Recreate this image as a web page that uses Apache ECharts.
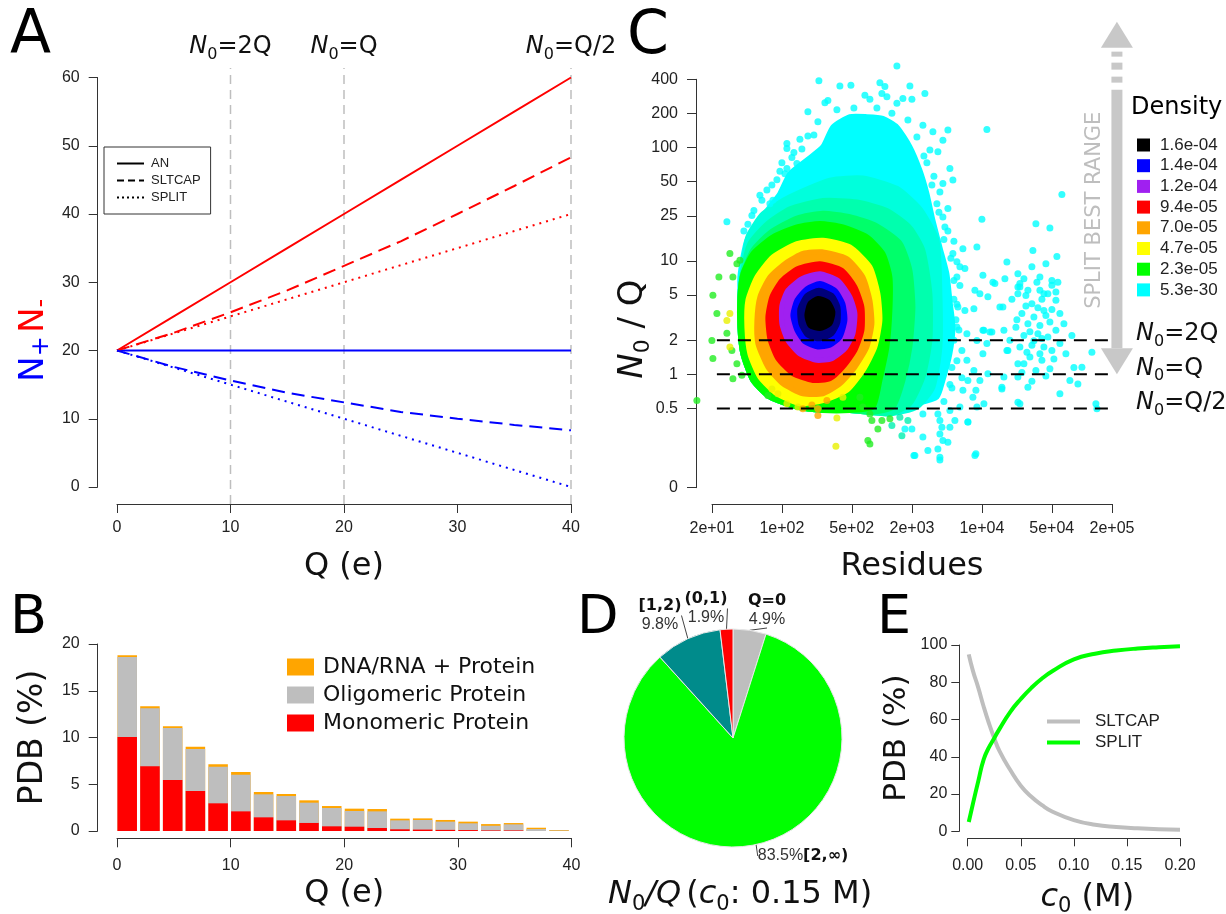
<!DOCTYPE html>
<html>
<head>
<meta charset="utf-8">
<script src="https://cdn.jsdelivr.net/npm/echarts@6/dist/echarts.min.js"></script>
<style>
  html, body { margin: 0; padding: 0; background: #fff; }
  #chart { width: 1226px; height: 914px; }
</style>
</head>
<body>
<div id="chart"></div>
<script>
// ---------- A: N+ / N- against Q ----------
const qA = [0, 5, 10, 15, 20, 25, 30, 35, 40];
const anMinus = [20, 25, 30, 35, 40, 45, 50, 55, 60];
const anPlus = [20, 20, 20, 20, 20, 20, 20, 20, 20];
const sltcapMinus = [20, 22.6, 25.6, 28.8, 32.4, 36.0, 40.0, 44.1, 48.3];
const sltcapPlus = [20, 17.6, 15.6, 13.8, 12.4, 11.0, 10.0, 9.1, 8.3];
const splitMinus = [20, 22.5, 25, 27.5, 30, 32.5, 35, 37.5, 40];
const splitPlus = [20, 17.5, 15, 12.5, 10, 7.5, 5, 2.5, 0];
const regimeQ = [10, 20, 40];
const regimeText = ['2Q', 'Q', 'Q/2'];
const regimeSpan = [-2.5, 61.4]; // vertical guides run over the whole plot region

// ---------- B: PDB share per charge bin ----------
const binCenters = [0.9, 2.9, 4.9, 6.9, 8.9, 10.9, 12.9, 14.9, 16.9, 18.9, 20.9, 22.9, 24.9, 26.9, 28.9, 30.9, 32.9, 34.9, 36.9, 38.9];
const monomeric = [10.05, 6.92, 5.45, 4.28, 2.96, 2.1, 1.46, 1.14, 0.86, 0.5, 0.46, 0.32, 0.18, 0.15, 0.12, 0.1, 0.06, 0.06, 0, 0];
const oligomeric = [8.55, 6.2, 5.57, 4.49, 3.92, 3.92, 2.46, 2.6, 2.17, 1.96, 1.68, 1.78, 0.96, 1.03, 0.88, 0.72, 0.5, 0.65, 0.21, 0.05];
const dnaRna = [0.2, 0.21, 0.18, 0.25, 0.25, 0.29, 0.25, 0.22, 0.25, 0.21, 0.25, 0.25, 0.18, 0.17, 0.18, 0.18, 0.18, 0.14, 0.14, 0.06];

// ---------- C: N0/Q against residues (log axes) ----------
const resTicks = [20, 100, 500, 2000, 10000, 50000, 200000];
const resTickText = ['2e+01', '1e+02', '5e+02', '2e+03', '1e+04', '5e+04', '2e+05'];
const ratioTicks = [0, 0.5, 1, 2, 5, 10, 25, 50, 100, 200, 400];
const ratioZeroAt = 0.1; // "0" sits here on the log2 axis
const cutRatios = [2, 1, 0.5];
const cutText = ['2Q', 'Q', 'Q/2'];
const cutSpanRes = [13.8, 3.0e5];
const densityText = ['1.6e-04', '1.4e-04', '1.2e-04', '9.4e-05', '7.0e-05', '4.7e-05', '2.3e-05', '5.3e-30'];
const splitArrow = { res: 2.24e5, from: 1, to: 1290, labelAt: 28 };

// density regions, [log10(residues), log2(N0/Q)]
const cloudCyan = [[2.51,7.25],[2.41,6.67],[2.25,6.28],[2.08,5.88],[1.98,5.30],[1.88,4.91],[1.75,4.42],[1.65,3.93],[1.61,3.44],[1.58,2.85],[1.58,2.36],[1.58,1.78],[1.60,1.09],[1.65,0.50],[1.75,-0.18],[1.88,-0.47],[2.05,-0.67],[2.25,-0.77],[2.51,-0.67],[2.75,-0.86],[2.95,-1.06],[3.15,-0.96],[3.35,-0.86],[3.55,-0.67],[3.61,-0.18],[3.68,0.60],[3.71,1.39],[3.68,2.17],[3.65,2.95],[3.58,3.73],[3.51,4.52],[3.45,5.30],[3.38,5.98],[3.28,6.67],[3.15,7.25],[3.01,7.50],[2.85,7.55],[2.68,7.55]];
const cloudMix1 = [[2.48,5.69],[2.81,5.75],[3.15,5.45],[3.38,4.85],[3.55,3.93],[3.58,2.36],[3.58,0.80],[3.51,-0.38],[3.35,-0.96],[3.08,-1.16],[2.68,-1.06],[2.41,-1.06],[2.15,-0.96],[1.88,-0.67],[1.71,-0.18],[1.61,0.60],[1.58,1.39],[1.58,2.27],[1.61,3.15],[1.66,4.03],[1.81,4.70],[2.08,5.20]];
const cloudMix2 = [[2.41,5.09],[2.75,5.05],[3.05,4.80],[3.28,4.30],[3.41,3.63],[3.48,2.36],[3.48,0.99],[3.41,-0.08],[3.28,-0.86],[3.08,-1.16],[2.68,-1.06],[2.41,-1.06],[2.15,-0.96],[1.88,-0.67],[1.71,-0.18],[1.61,0.60],[1.58,1.39],[1.58,2.27],[1.61,3.05],[1.68,3.83],[1.85,4.40],[2.08,4.85]];
const cloudMix3 = [[2.41,4.72],[2.68,4.62],[2.95,4.35],[3.18,3.85],[3.28,3.05],[3.31,1.97],[3.28,0.80],[3.21,-0.18],[3.11,-0.96],[2.91,-1.11],[2.68,-1.06],[2.41,-1.06],[2.15,-0.96],[1.88,-0.67],[1.71,-0.18],[1.61,0.60],[1.58,1.39],[1.58,2.27],[1.61,2.95],[1.71,3.64],[1.88,4.15],[2.15,4.58]];
const cloudGreen = [[2.38,4.42],[2.61,4.32],[2.85,4.03],[3.01,3.54],[3.08,2.85],[3.08,1.87],[3.05,0.80],[2.98,-0.18],[2.91,-0.96],[2.68,-1.06],[2.41,-1.06],[2.15,-0.96],[1.88,-0.67],[1.71,-0.18],[1.61,0.60],[1.58,1.39],[1.58,2.27],[1.61,2.95],[1.71,3.54],[1.91,4.03],[2.15,4.32]];
const cloudYellow = [[2.41,3.93],[2.68,3.73],[2.88,3.15],[2.96,2.36],[2.98,1.58],[2.93,0.80],[2.81,0.11],[2.65,-0.47],[2.41,-0.77],[2.18,-0.86],[1.95,-0.57],[1.78,-0.08],[1.68,0.60],[1.65,1.39],[1.66,2.17],[1.75,2.85],[1.91,3.44],[2.15,3.83]];
const cloudOrange = [[2.40,3.59],[2.65,3.39],[2.81,2.85],[2.88,2.17],[2.90,1.48],[2.85,0.80],[2.73,0.21],[2.58,-0.28],[2.41,-0.57],[2.21,-0.57],[2.01,-0.28],[1.86,0.21],[1.76,0.90],[1.75,1.58],[1.78,2.27],[1.88,2.85],[2.05,3.29],[2.21,3.54]];
const cloudRed = [[2.38,3.24],[2.60,3.05],[2.73,2.56],[2.80,1.97],[2.80,1.29],[2.73,0.70],[2.61,0.21],[2.48,-0.13],[2.31,-0.18],[2.11,0.02],[1.96,0.46],[1.88,1.04],[1.86,1.68],[1.90,2.27],[2.00,2.75],[2.16,3.10]];
const cloudPurple = [[2.38,2.95],[2.56,2.75],[2.68,2.27],[2.73,1.78],[2.71,1.19],[2.63,0.75],[2.50,0.46],[2.35,0.41],[2.18,0.60],[2.06,0.99],[2.00,1.48],[2.00,2.02],[2.06,2.46],[2.20,2.80]];
const cloudBlue = [[2.38,2.66],[2.53,2.46],[2.61,2.07],[2.63,1.58],[2.58,1.09],[2.48,0.85],[2.36,0.80],[2.23,0.95],[2.15,1.29],[2.11,1.73],[2.15,2.17],[2.25,2.51]];
const cloudNavy = [[2.37,2.46],[2.50,2.31],[2.56,1.97],[2.56,1.53],[2.50,1.19],[2.38,1.04],[2.26,1.14],[2.19,1.48],[2.18,1.92],[2.25,2.31]];
const cloudBlack = [[2.36,2.22],[2.46,2.12],[2.51,1.83],[2.48,1.48],[2.38,1.34],[2.28,1.43],[2.25,1.73],[2.28,2.07]];

// sparse points outside the dense regions, [log10(residues), log2(N0/Q)]
const cyanDots = [[3.15,9.03],[2.37,8.60],[2.58,8.45],[2.69,8.47],[2.98,8.54],[3.03,8.43],[3.00,8.23],[3.05,8.13],[3.28,8.45],[3.43,8.23],[2.26,7.69],[2.43,7.96],[2.46,8.02],[2.83,8.18],[2.88,8.06],[3.15,7.94],[3.21,8.08],[3.30,8.06],[3.26,7.45],[3.41,7.30],[3.51,7.11],[3.66,7.16],[4.05,7.17],[2.18,6.89],[2.26,6.98],[2.32,7.01],[2.05,6.76],[2.05,6.62],[2.15,6.18],[2.05,6.03],[2.03,5.88],[1.78,5.25],[1.91,5.10],[1.88,5.00],[1.45,4.47],[3.61,6.86],[3.56,6.52],[3.48,6.57],[3.68,6.03],[3.71,5.69],[3.61,5.59],[3.58,5.34],[3.66,4.86],[3.61,4.61],[4.00,4.54],[3.63,4.32],[3.71,3.54],[3.78,3.15],[3.81,3.68],[3.95,3.73],[3.83,3.10],[3.75,2.85],[4.01,2.90],[4.11,2.70],[4.25,3.29],[3.93,2.46],[3.98,2.36],[4.06,2.27],[4.13,2.66],[4.23,2.80],[4.21,1.97],[4.36,2.56],[4.36,2.36],[3.76,1.97],[3.83,1.87],[3.92,1.92],[3.75,1.39],[3.85,1.19],[3.95,0.99],[4.01,1.29],[4.10,1.24],[4.05,0.90],[4.01,0.60],[4.25,0.70],[4.36,0.31],[4.36,-0.82],[3.85,0.41],[3.92,0.11],[3.86,-0.18],[3.98,-0.18],[4.06,0.02],[3.81,-0.47],[3.91,-0.67],[3.95,-0.96],[4.20,-0.43],[3.56,-1.16],[3.58,-1.35],[3.60,-1.55],[3.58,-1.75],[3.61,-1.94],[3.66,-1.99],[3.56,-2.19],[3.58,-2.43],[3.46,-2.23],[3.32,-2.38],[3.23,-1.60],[3.30,-1.60],[3.41,-1.84],[3.68,-1.55],[3.73,-1.35],[3.86,-1.40],[3.93,-2.38],[3.68,-1.06],[3.41,-1.16],
  [4.38,2.56],[4.44,2.31],[4.50,2.07],[4.58,2.46],[4.66,2.36],[4.70,2.61],[4.74,2.17],[4.62,1.87],[4.52,1.68],[4.40,1.78],[4.46,1.48],[4.58,1.43],[4.68,1.53],[4.78,1.78],[4.56,1.19],[4.42,1.14],[4.66,1.09],[4.74,1.29],[4.50,0.85],[4.62,0.80],[4.70,0.70],[4.38,0.80],[4.48,0.51],[4.60,0.41],[4.68,0.16],[4.54,0.11],[4.42,0.31],[4.78,0.90],[4.82,1.48],[4.90,1.14],[4.34,1.38],[4.26,0.70],[4.02,1.29],[4.08,1.24],[4.18,1.97],[4.22,1.29],[4.36,-0.08],[5.00,0.21],[5.10,0.65],[4.96,-0.28],[4.78,-0.57],[4.88,-0.18],[5.14,-0.86],[5.15,-1.01],[4.38,-0.86],[4.46,-0.38],[4.22,-0.08],[4.20,-0.38],[3.94,-0.47],[3.94,-2.33],[3.33,-2.38],[3.58,-2.51],[3.86,-1.40],[4.02,-0.86],[3.78,-0.96],
  [4.44,2.00],[4.56,1.95],[4.64,1.72],[4.48,1.25],[4.52,0.98],[4.60,1.05],[4.70,1.90],[4.35,1.60],[4.45,0.65],[4.58,0.60],[4.72,0.45],[4.64,-0.05],[4.50,-0.20],[4.40,0.05],[4.76,2.70],[4.60,2.20],[4.30,2.20],[4.28,1.00],[4.84,0.60],[4.92,0.20],[4.55,2.70],[4.42,2.80],
  [4.80,5.27],[4.54,4.41],[4.68,4.29],[4.51,3.63],[4.75,3.45],[4.36,2.95],[4.50,3.15],[4.58,2.85],[4.64,3.24],[4.70,2.75],[4.38,2.66],[4.46,2.46],[4.62,2.36],[4.74,2.41],
  [2.12,6.50],[2.00,6.20],[1.95,5.70],[1.85,5.40],[1.72,4.80],[1.66,4.40],[1.62,4.20],[3.45,6.20],[3.52,5.80],[3.55,5.00],[3.66,4.20],[3.72,3.90],[3.75,3.30],[3.78,2.60],[3.72,2.20],[3.74,1.60],[3.72,1.00],[3.70,0.20],[3.70,-0.40],[3.62,-0.80],[3.80,0.70],[3.80,-0.10],
  [2.36,7.40],[2.55,7.75],[2.72,7.80],[2.95,7.80],[3.10,7.65],[3.35,6.95],[3.42,6.40],[3.50,5.55],[3.57,4.75],[3.62,3.95],[3.69,3.40],[3.72,2.75],[3.75,2.05],[3.77,1.30],[3.75,0.40],[3.68,-0.30],[2.20,6.60],[2.10,6.35],[1.98,5.95],[1.90,5.55],[1.80,5.10],[1.70,4.65]];
const tealDots = [[3.18,-1.26],[3.26,-1.35],[3.20,-1.80],[3.10,-1.50]];
const greenDots = [[1.31,2.32],[1.35,1.78],[1.37,2.85],[1.48,3.54],[1.51,2.85],[1.55,3.24],[1.58,3.34],[1.30,0.99],[1.31,0.46],[1.51,-0.13],[1.60,-0.03],[1.55,0.31],[1.15,-0.77],[2.78,-0.67],[2.81,-0.96],[2.88,-1.16],[2.90,-1.35],[2.96,-1.60],[2.88,-2.04],[2.86,-1.94],[3.08,-1.30],[3.00,-1.35],[1.86,-0.62],[1.45,1.20],[1.50,0.70]];
const yellowDots = [[1.48,0.80],[1.45,1.58],[1.48,1.78],[1.96,-0.57],[1.90,-0.43],[2.05,-0.86],[2.16,-0.96],[2.61,-0.67],[2.55,-1.28],[2.54,-2.11]];
const orangeDots = [[2.21,-1.01],[2.36,-1.21],[2.36,-1.01],[2.45,-0.77],[2.30,-0.90]];

// ---------- D: N0/Q classes at 0.15 M ----------
const pieNames = ['Q=0', '[2,\u221e)', '[1,2)', '(0,1)'];
const pieShares = [4.9, 83.5, 9.8, 1.9];

// ---------- E: share of PDB against c0 ----------
const c0 = [0.001, 0.005, 0.01, 0.015, 0.02, 0.025, 0.03, 0.04, 0.05, 0.06, 0.07, 0.08, 0.10, 0.12, 0.14, 0.16, 0.18, 0.20];
const pdbSltcap = [95, 86, 77, 67, 58, 50, 43, 33, 24.5, 18.5, 14, 10.5, 6, 3.5, 2.3, 1.6, 1.1, 0.8];
const pdbSplit = [5, 15, 27, 38.5, 45, 50, 55, 64, 71, 77, 82, 86, 92.3, 95.3, 97, 98.1, 98.8, 99.3];

// ---------- styles ----------
const RED = '#FF0000', BLUE = '#0000FF', GREY = '#BEBEBE', INK = '#222';
const SANS = 'Liberation Sans', DEJAVU = 'DejaVu Sans';
const pieColors = [GREY, '#00FF00', '#008B8B', RED];
const pieLabelAt = [[767, 610], [803, 856], [660, 615], [706, 608]];

const lx = v => Math.log10(v);
const lr = v => Math.log2(v === 0 ? ratioZeroAt : v);
const zip = (xs, ys) => xs.map((x, i) => [x, ys[i]]);
const pick = (vals, labels) => v => {
  const i = vals.findIndex(t => Math.abs(t - v) < 1e-6);
  return i < 0 ? '' : labels[i];
};

// B bars are layered: full height first, then the lower parts drawn over it
const topOfGrey = monomeric.map((v, i) => v + oligomeric[i]);
const topOfAll = topOfGrey.map((v, i) => v + dnaRna[i]);

const axLine = { show: true, onZero: false, lineStyle: { color: '#333', width: 1 } };
const axTick = { show: true, length: 9, lineStyle: { color: '#333', width: 1 } };
const axLabel = margin => ({ fontSize: 16, color: INK, fontFamily: SANS, margin });
const noSplit = { show: false };
const titleText = (size, lh) => ({ fontSize: size, lineHeight: lh, fontFamily: DEJAVU, color: '#111', fontWeight: 'normal' });
const subRich = size => ({
  n: { fontFamily: DEJAVU, fontStyle: 'italic', fontWeight: 'normal', fontSize: size, lineHeight: size + 8, color: '#111' },
  s: { fontFamily: DEJAVU, fontWeight: 'normal', fontSize: Math.round(size * 0.65), lineHeight: Math.round(size * 0.65), verticalAlign: 'bottom', color: '#111' },
  t: { fontFamily: DEJAVU, fontWeight: 'normal', fontSize: size, lineHeight: size + 8, color: '#111' }
});

const lineA = (ys, color, type) => ({
  type: 'line', xAxisIndex: 0, yAxisIndex: 0, data: zip(qA, ys),
  symbol: 'none', silent: true, lineStyle: { color, width: 2, type }, itemStyle: { color }
});
const keyLine = (name, type) => ({
  type: 'line', name, xAxisIndex: 0, yAxisIndex: 0, data: [], symbol: 'none',
  lineStyle: { color: '#000', width: 1.5, type }, itemStyle: { color: '#000' }
});
const barB = (name, ys, color) => ({
  type: 'bar', name, xAxisIndex: 2, yAxisIndex: 1, data: zip(binCenters, ys),
  barWidth: 19.5, barGap: '-100%', itemStyle: { color }, silent: true
});

function cloud(name, color, pts) {
  return {
    type: 'custom', name, xAxisIndex: 3, yAxisIndex: 2, silent: true,
    itemStyle: { color },
    data: [pts[0]],
    renderItem: (params, api) => ({
      type: 'polygon',
      shape: { points: pts.map(p => api.coord(p)), smooth: 0.2 },
      style: { fill: color, stroke: color, lineWidth: 5, lineJoin: 'round' }
    })
  };
}
const dots = (color, pts) => ({
  type: 'scatter', xAxisIndex: 3, yAxisIndex: 2, data: pts, symbolSize: 7,
  itemStyle: { color }, clip: false, silent: true
});

const series = [
  // A
  ...regimeQ.map(q => ({
    type: 'line', xAxisIndex: 0, yAxisIndex: 0, data: [[q, regimeSpan[0]], [q, regimeSpan[1]]],
    symbol: 'none', silent: true, clip: false, lineStyle: { color: GREY, width: 1.5, type: [9, 6] }
  })),
  lineA(anMinus, RED, 'solid'),
  lineA(anPlus, BLUE, 'solid'),
  lineA(sltcapMinus, RED, [13, 7]),
  lineA(sltcapPlus, BLUE, [13, 7]),
  lineA(splitMinus, RED, [2, 5]),
  lineA(splitPlus, BLUE, [2, 5]),
  keyLine('AN', 'solid'),
  keyLine('SLTCAP', [7, 4]),
  keyLine('SPLIT', [2, 3]),
  // B
  barB('DNA/RNA + Protein', topOfAll, '#FFA500'),
  barB('Oligomeric Protein', topOfGrey, GREY),
  barB('Monomeric Protein', monomeric, RED),
  // C
  dots('#00FFFF', cyanDots),
  dots('#00F0B0', tealDots),
  dots('#22EE22', greenDots),
  dots('#E8F000', yellowDots),
  dots('#FFA500', orangeDots),
  cloud(densityText[7], '#00FFFF', cloudCyan),
  cloud('mix1', '#00FFDC', cloudMix1),
  cloud('mix2', '#00FFAE', cloudMix2),
  cloud('mix3', '#00FF6A', cloudMix3),
  cloud(densityText[6], '#00FF00', cloudGreen),
  cloud(densityText[5], '#FFFF00', cloudYellow),
  cloud(densityText[4], '#FFA500', cloudOrange),
  cloud(densityText[3], '#FF0000', cloudRed),
  cloud(densityText[2], '#A020F0', cloudPurple),
  cloud(densityText[1], '#0000FF', cloudBlue),
  cloud('navy', '#00007A', cloudNavy),
  cloud(densityText[0], '#000000', cloudBlack),
  ...cutRatios.map(r => ({
    type: 'line', xAxisIndex: 3, yAxisIndex: 2, z: 4,
    data: [[lx(cutSpanRes[0]), lr(r)], [lx(cutSpanRes[1]), lr(r)]],
    symbol: 'none', silent: true, clip: false, lineStyle: { color: '#000', width: 2, type: [13, 8] }
  })),
  {
    type: 'custom', xAxisIndex: 3, yAxisIndex: 2, z: 5, silent: true,
    data: [[lx(splitArrow.res), lr(splitArrow.from), lr(splitArrow.to), lr(splitArrow.labelAt)]],
    renderItem: (params, api) => {
      const bot = api.coord([api.value(0), api.value(1)]);
      const top = api.coord([api.value(0), api.value(2)]);
      const mid = api.coord([api.value(0), api.value(3)]);
      const x = bot[0], hw = 16, sw = 5.5, hh = 26, fill = '#C8C8C8';
      const bar = (y0, y1) => ({ type: 'rect', shape: { x: x - sw, y: y0, width: sw * 2, height: y1 - y0 }, style: { fill } });
      return {
        type: 'group', children: [
          { type: 'polygon', shape: { points: [[x - hw, top[1] + hh], [x + hw, top[1] + hh], [x, top[1]]] }, style: { fill } },
          bar(top[1] + 30, top[1] + 35), bar(top[1] + 41, top[1] + 48), bar(top[1] + 55, top[1] + 61),
          bar(top[1] + 68, bot[1] - hh),
          { type: 'polygon', shape: { points: [[x - hw, bot[1] - hh], [x + hw, bot[1] - hh], [x, bot[1]]] }, style: { fill } },
          { type: 'text', x: x - 22, y: mid[1], rotation: Math.PI / 2,
            style: { text: 'SPLIT BEST RANGE', fill: GREY, font: '21px "DejaVu Sans"', align: 'center', verticalAlign: 'middle' } }
        ]
      };
    }
  },
  // D
  {
    type: 'pie', center: [733, 738], radius: 109, startAngle: 90, clockwise: true, silent: true,
    data: pieNames.map((n, i) => ({ name: n, value: pieShares[i], itemStyle: { color: pieColors[i] } })),
    itemStyle: { borderColor: '#e8e8e8', borderWidth: 1 },
    label: {
      show: true, position: 'outside',
      formatter: p => p.dataIndex === 1
        ? `{p|${p.value.toFixed(1)}%}{b|${p.name}}`
        : `{b|${p.name}}\n{p|${p.value.toFixed(1)}%}`,
      rich: {
        b: { fontFamily: DEJAVU, fontWeight: 'bold', fontSize: 16, lineHeight: 20, color: '#111' },
        p: { fontFamily: SANS, fontSize: 16, lineHeight: 18, color: '#333' }
      }
    },
    labelLine: { show: true, length: 6, length2: 0, lineStyle: { color: '#444', width: 1 } },
    labelLayout: p => ({ x: pieLabelAt[p.dataIndex][0], y: pieLabelAt[p.dataIndex][1], align: 'center', verticalAlign: 'middle' })
  },
  // E
  { type: 'line', name: 'E:SLTCAP', xAxisIndex: 4, yAxisIndex: 4, data: zip(c0, pdbSltcap), smooth: true, symbol: 'none', silent: true, lineStyle: { color: GREY, width: 4 }, itemStyle: { color: GREY } },
  { type: 'line', name: 'E:SPLIT', xAxisIndex: 4, yAxisIndex: 4, data: zip(c0, pdbSplit), smooth: true, symbol: 'none', silent: true, lineStyle: { color: '#00FF00', width: 4 }, itemStyle: { color: '#00FF00' } }
];

const letter = (text, left, top, size) => ({
  text, left, top, padding: 0,
  textStyle: { fontSize: size, lineHeight: size, fontWeight: 'normal', fontFamily: DEJAVU, color: '#000' }
});

const option = {
  animation: false,
  backgroundColor: '#fff',
  textStyle: { fontFamily: SANS },
  title: [
    letter('A', 10, 6, 60),
    letter('C', 627, 7, 60),
    letter('B', 10, 592, 54),
    letter('D', 577, 592, 54),
    letter('E', 877, 592, 54),
    { text: 'Density', left: 1131, top: 95, padding: 0, textStyle: { fontSize: 24, lineHeight: 26, fontWeight: 'normal', fontFamily: DEJAVU, color: '#000' } },
    { text: '{n|N}{s|0}{n|/Q} {t|(}{n|c}{s|0}{t|: 0.15 M)}', left: 608, top: 875, padding: 0,
      textStyle: { fontWeight: 'normal', rich: subRich(32) } }
  ],
  legend: [
    { orient: 'vertical', left: 104, top: 147, selectedMode: false,
      data: ['AN', 'SLTCAP', 'SPLIT'], itemWidth: 27, itemHeight: 10, itemGap: 4,
      itemStyle: { opacity: 0 },
      padding: [10, 10, 10, 12], borderColor: '#333', borderWidth: 1, borderRadius: 0,
      textStyle: { fontSize: 13, lineHeight: 13, color: INK, fontFamily: SANS, padding: [0, 0, 0, 2] } },
    { orient: 'vertical', left: 287, top: 656, selectedMode: false, padding: 0,
      data: ['DNA/RNA + Protein', 'Oligomeric Protein', 'Monomeric Protein'], icon: 'rect',
      itemWidth: 27, itemHeight: 17, itemGap: 6,
      textStyle: { fontSize: 22, lineHeight: 22, color: '#111', fontFamily: DEJAVU, padding: [0, 0, 0, 4] } },
    { orient: 'vertical', left: 1137, top: 136.5, selectedMode: false, padding: 0,
      data: densityText, icon: 'rect', itemWidth: 13, itemHeight: 13, itemGap: 3.7,
      textStyle: { fontSize: 17, lineHeight: 17, color: INK, fontFamily: SANS, padding: [0, 0, 0, 5] } },
    { orient: 'vertical', left: 1045, top: 713, selectedMode: false, padding: 0,
      data: ['E:SLTCAP', 'E:SPLIT'], formatter: n => n.slice(2), itemWidth: 33, itemHeight: 10, itemGap: 4,
      itemStyle: { opacity: 0 }, lineStyle: { width: 4 },
      textStyle: { fontSize: 17, lineHeight: 17, color: INK, fontFamily: SANS, padding: [0, 0, 0, 10] } }
  ],
  grid: [
    { left: 117, top: 77.5, width: 454, height: 409.5, outerBoundsMode: 'none', containLabel: false },
    { left: 117, top: 644, width: 454.5, height: 187, outerBoundsMode: 'none', containLabel: false },
    { left: 712, top: 79.3, width: 400, height: 408.4, outerBoundsMode: 'none', containLabel: false },
    { left: 967.7, top: 645, width: 212.3, height: 186.3, outerBoundsMode: 'none', containLabel: false }
  ],
  xAxis: [
    { gridIndex: 0, type: 'value', min: 0, max: 40, interval: 10, offset: 17,
      axisLine: axLine, axisTick: axTick, axisLabel: axLabel(16), splitLine: noSplit,
      name: 'Q (e)', nameLocation: 'middle', nameGap: 45, nameMoveOverlap: false, nameTextStyle: titleText(32, 36) },
    { gridIndex: 0, type: 'value', position: 'top', min: 0, max: 40,
      axisLine: { show: false }, axisTick: { show: false }, splitLine: noSplit,
      axisLabel: { customValues: regimeQ, margin: 15, rich: subRich(24),
        formatter: v => `{n|N}{s|0}{t|=${pick(regimeQ, regimeText)(v)}}` } },
    { gridIndex: 1, type: 'value', min: 0, max: 40, interval: 10, offset: 7.3,
      axisLine: axLine, axisTick: axTick, axisLabel: axLabel(19), splitLine: noSplit,
      name: 'Q (e)', nameLocation: 'middle', nameGap: 37, nameMoveOverlap: false, nameTextStyle: titleText(32, 36) },
    { gridIndex: 2, type: 'value', min: lx(resTicks[0]), max: lx(resTicks[resTicks.length - 1]), offset: 16.3,
      axisLine: axLine, axisTick: { ...axTick, customValues: resTicks.map(lx) },
      axisLabel: { ...axLabel(17), customValues: resTicks.map(lx), formatter: pick(resTicks.map(lx), resTickText) },
      splitLine: noSplit,
      name: 'Residues', nameLocation: 'middle', nameGap: 45, nameMoveOverlap: false, nameTextStyle: titleText(32, 36) },
    { gridIndex: 3, type: 'value', min: 0, max: 0.2, interval: 0.05, offset: 7,
      axisLine: axLine, axisTick: { ...axTick, length: 8 }, axisLabel: { ...axLabel(19), formatter: v => v.toFixed(2) },
      splitLine: noSplit,
      name: '{n|c}{s|0}{t| (M)}', nameLocation: 'middle', nameGap: 39, nameMoveOverlap: false,
      nameTextStyle: { padding: [0, 0, 0, 27], rich: subRich(32) } }
  ],
  yAxis: [
    { gridIndex: 0, type: 'value', min: 0, max: 60, interval: 10, offset: 19.3,
      axisLine: axLine, axisTick: axTick, axisLabel: axLabel(18), splitLine: noSplit,
      name: '{nb|N}{sb|+} {nr|N}{sr|-}', nameLocation: 'middle', nameRotate: 90, nameGap: 44, nameMoveOverlap: false,
      nameTextStyle: { padding: [0, 116, 0, 0], rich: {
        nb: { fontFamily: DEJAVU, fontSize: 34, lineHeight: 40, color: BLUE },
        sb: { fontFamily: DEJAVU, fontSize: 24, lineHeight: 24, verticalAlign: 'bottom', color: BLUE },
        nr: { fontFamily: DEJAVU, fontSize: 34, lineHeight: 40, color: RED },
        sr: { fontFamily: DEJAVU, fontSize: 24, lineHeight: 24, verticalAlign: 'bottom', color: RED }
      } } },
    { gridIndex: 1, type: 'value', min: 0, max: 20, interval: 5, offset: 19.3,
      axisLine: axLine, axisTick: axTick, axisLabel: axLabel(18), splitLine: noSplit,
      name: 'PDB (%)', nameLocation: 'middle', nameRotate: 90, nameGap: 46, nameMoveOverlap: false, nameTextStyle: titleText(33, 36) },
    { gridIndex: 2, type: 'value', min: lr(0), max: lr(400), offset: 16,
      axisLine: axLine, axisTick: { ...axTick, customValues: ratioTicks.map(lr) },
      axisLabel: { ...axLabel(18), customValues: ratioTicks.map(lr), formatter: pick(ratioTicks.map(lr), ratioTicks.map(String)) },
      splitLine: noSplit,
      name: '{n|N}{s|0}{t| / Q}', nameLocation: 'middle', nameRotate: 90, nameGap: 42, nameMoveOverlap: false,
      nameTextStyle: { padding: [0, 91, 0, 0], rich: subRich(34) } },
    { gridIndex: 2, type: 'value', position: 'right', min: lr(0), max: lr(400),
      axisLine: { show: false }, axisTick: { show: false }, splitLine: noSplit,
      axisLabel: { customValues: cutRatios.map(lr), margin: 24, padding: [0, 0, 12, 0], rich: subRich(24),
        formatter: v => `{n|N}{s|0}{t|=${pick(cutRatios.map(lr), cutText)(v)}}` } },
    { gridIndex: 3, type: 'value', min: 0, max: 100, interval: 20, offset: 8.4,
      axisLine: axLine, axisTick: { ...axTick, length: 8 }, axisLabel: axLabel(12), splitLine: noSplit,
      name: 'PDB (%)', nameLocation: 'middle', nameRotate: 90, nameGap: 45, nameMoveOverlap: false, nameTextStyle: titleText(31, 34) }
  ],
  series
};

const chart = echarts.init(document.getElementById('chart'));
chart.setOption(option);
</script>
</body>
</html>
